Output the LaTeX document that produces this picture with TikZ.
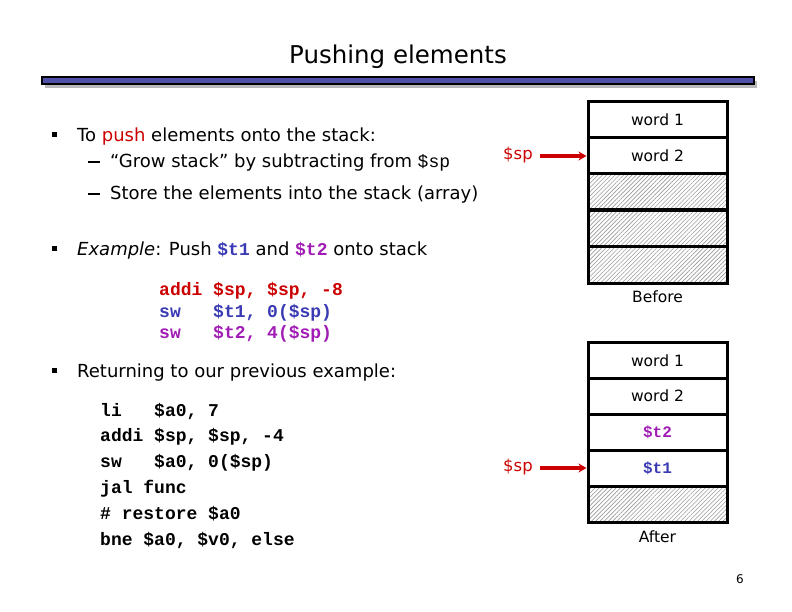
\documentclass[tikz,border=0pt]{standalone}
\usepackage{fontspec}
\setmainfont{DejaVu Sans}
\setmonofont{Liberation Mono}
\usetikzlibrary{patterns.meta,arrows.meta}
\definecolor{myred}{HTML}{CC0000}
\definecolor{myblue}{HTML}{3A3AB4}
\definecolor{mypurple}{HTML}{A01CB4}
\definecolor{barblue}{HTML}{5050A8}
\begin{document}
\begin{tikzpicture}[x=1pt,y=-1pt,
  txt/.style={anchor=base west,inner sep=0pt,font=\fontsize{18}{20}\selectfont},
  code/.style={anchor=base west,inner sep=0pt,font=\fontsize{18}{20}\selectfont\ttfamily\bfseries},
  bul/.style={fill=black,minimum size=5pt,inner sep=0pt},
  cell/.style={draw,line width=3pt,minimum width=139pt,minimum height=36pt,inner sep=0pt,font=\fontsize{15.5}{18}\selectfont},
  hcell/.style={cell,pattern={Lines[angle=45,distance=3pt,line width=0.6pt]},pattern color=gray!80},
  caplabel/.style={inner sep=0pt,font=\fontsize{15.5}{18}\selectfont},
  splab/.style={anchor=east,inner sep=0pt,text=myred,font=\fontsize{16.5}{18}\selectfont},
  sparrow/.style={draw=myred,line width=3.5pt,-{Stealth[length=8pt,width=9pt]}},
  dashmark/.style={anchor=base west,inner sep=0pt}
]
\useasboundingbox (0,0) rectangle (792,612);
% title
\node[inner sep=0pt,font=\fontsize{24.5}{28}\selectfont] (title) at (398,57) {Pushing elements};
\fill[gray!55] (45,81) rectangle (757,88);
\filldraw[fill=barblue,draw=black,line width=1.5pt] (42,77) rectangle (754,84);
% bullets
\node[bul] (b1) at (54,134.5) {};
\node[txt] (t1) at (77,142) {To \textcolor{myred}{push} elements onto the stack:};
\node[dashmark] (d1) at (88,168) {\rule[5pt]{12pt}{1.6pt}};
\node[txt] (t2) at (110,168) {“Grow stack” by subtracting from \texttt{\$sp}};
\node[dashmark] (d2) at (88,200) {\rule[5pt]{12pt}{1.6pt}};
\node[txt] (t3) at (110,200) {Store the elements into the stack (array)};
\node[bul] (b2) at (54,249) {};
\node[txt] (t4) at (77,256) {\textit{Example}: Push \textcolor{myblue}{\texttt{\bfseries\$t1}} and \textcolor{mypurple}{\texttt{\bfseries\$t2}} onto stack};
% code 1
\node[code,text=myred] (c1) at (159,295.5) {addi \$sp, \$sp, -8};
\node[code,text=myblue] (c2) at (159,317) {sw~~~\$t1, 0(\$sp)};
\node[code,text=mypurple] (c3) at (159,338) {sw~~~\$t2, 4(\$sp)};
% bullet 3
\node[bul] (b3) at (54,370) {};
\node[txt] (t5) at (77,377) {Returning to our previous example:};
% code 2
\node[code] (e1) at (100,416) {li~~~\$a0, 7};
\node[code] (e2) at (100,441.8) {addi \$sp, \$sp, -4};
\node[code] (e3) at (100,467.6) {sw~~~\$a0, 0(\$sp)};
\node[code] (e4) at (100,493.4) {jal func};
\node[code] (e5) at (100,519.2) {\# restore \$a0};
\node[code] (e6) at (100,545) {bne \$a0, \$v0, else};
% stack before
\node[cell] (s1) at (657.5,120) {word 1};
\node[cell] (s2) at (657.5,156) {word 2};
\node[hcell] (s3) at (657.5,192) {};
\node[hcell] (s4) at (657.5,228.5) {};
\node[hcell] (s5) at (657.5,265) {};
\node[caplabel] (before) at (657.5,297) {Before};
\node[splab] (sp1) at (533,155) {\$sp};
\coordinate (sp1t) at (540,156);
\draw[sparrow] (sp1t) -- (s2.west);
% stack after
\node[cell] (a1) at (657.5,360.5) {word 1};
\node[cell] (a2) at (657.5,396) {word 2};
\node[cell,text=mypurple,font=\fontsize{16}{18}\selectfont\ttfamily\bfseries] (a3) at (657.5,432) {\$t2};
\node[cell,text=myblue,font=\fontsize{16}{18}\selectfont\ttfamily\bfseries] (a4) at (657.5,468) {\$t1};
\node[hcell] (a5) at (657.5,504) {};
\node[caplabel] (after) at (657.5,537) {After};
\node[splab] (sp2) at (533,467) {\$sp};
\coordinate (sp2t) at (540,468);
\draw[sparrow] (sp2t) -- (a4.west);
% page number
\node[inner sep=0pt,font=\fontsize{12}{14}\selectfont] (pg) at (740,579) {6};
\end{tikzpicture}
\end{document}
